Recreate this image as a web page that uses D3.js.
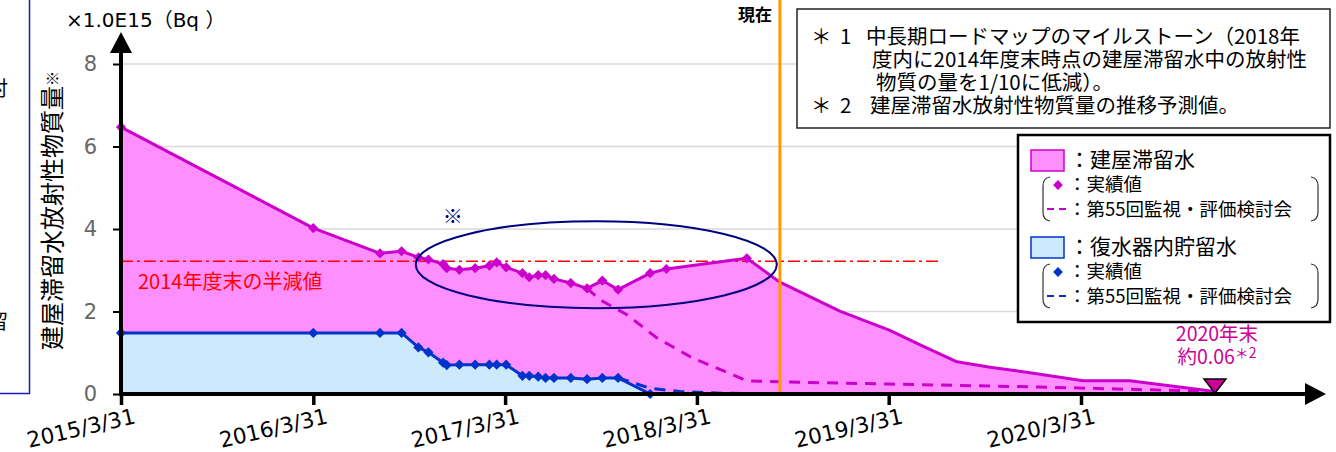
<!DOCTYPE html>
<html>
<head>
<meta charset="utf-8">
<script src="https://cdn.jsdelivr.net/npm/d3@7"></script>
<style>
  body { margin: 0; background: #fff; }
  svg { display: block; font-family: "DejaVu Sans", "Noto Sans CJK JP", sans-serif; }
  .jp { font-family: "Noto Sans CJK JP", sans-serif; }
</style>
</head>
<body>
<svg id="chart" width="1336" height="452"></svg>
<script>
// measured dates (shared by both series)
const actualDates = [
  '2015-03-31', '2016-03-31', '2016-08-05', '2016-09-15', '2016-10-17', '2016-11-05',
  '2016-12-03', '2016-12-10', '2017-01-03', '2017-02-02', '2017-03-01', '2017-03-15',
  '2017-04-02', '2017-05-03', '2017-05-16', '2017-06-02', '2017-06-16', '2017-07-02',
  '2017-08-03', '2017-09-03', '2017-10-02', '2017-11-01', '2018-01-01', '2018-02-01',
  '2018-07-04'
];
// 建屋滞留水 実績値 (x1.0E15 Bq)
const buildingValues = [
  6.47, 4.02, 3.41, 3.46, 3.31, 3.26, 3.15, 3.05, 3.01, 3.05, 3.11, 3.19,
  3.07, 2.93, 2.83, 2.88, 2.88, 2.79, 2.69, 2.56, 2.75, 2.53, 2.93, 3.03, 3.29
];
// 復水器内貯留水 実績値
const condenserValues = [
  1.48, 1.48, 1.48, 1.48, 1.13, 1.01, 0.76, 0.70, 0.71, 0.71, 0.71, 0.71,
  0.71, 0.44, 0.44, 0.42, 0.39, 0.39, 0.39, 0.36, 0.39, 0.39, 0.0
];
// 推移予測値 (*2)
const forecastDates = [
  '2018-07-04', '2018-09-05', '2018-12-28', '2019-04-01', '2019-06-04', '2019-08-08',
  '2019-10-10', '2020-01-13', '2020-04-04', '2020-07-02', '2020-12-11'
];
const forecastValues = [3.29, 2.71, 2.01, 1.55, 1.16, 0.78, 0.65, 0.48, 0.32, 0.32, 0.06];
// 第55回監視・評価検討会 plan
const buildingPlanDates = [
  '2017-09-03', '2017-09-28', '2017-11-18', '2018-01-14', '2018-03-23', '2018-06-09',
  '2018-07-04', '2018-09-20', '2019-04-01', '2020-01-13', '2020-12-11'
];
const buildingPlanValues = [2.56, 2.28, 1.92, 1.36, 0.87, 0.46, 0.32, 0.29, 0.24, 0.17, 0.06];
const condenserPlanDates = ['2017-11-01', '2018-01-01', '2018-02-27', '2018-05-14', '2018-09-05'];
const condenserPlanValues = [0.39, 0.14, 0.06, 0.02, 0.0];

const yTicks = [0, 2, 4, 6, 8];
const xTickDates = ['2015-03-31', '2016-03-31', '2017-03-31', '2018-03-31', '2019-03-31', '2020-03-31'];
const xTickLabels = ['2015/3/31', '2016/3/31', '2017/3/31', '2018/3/31', '2019/3/31', '2020/3/31'];
const halfValue = 3.22;
const halfLineEnd = '2019-07-06';
const nowDate = '2018-09-05';
const endDate = '2020-12-11';
const endValue = 0.06;
const ellipseDates = ['2016-10-12', '2018-08-30'];
const ellipseValues = [4.19, 2.08];

const parse = d3.timeParse('%Y-%m-%d');
const svg = d3.select('#chart');

const x = d3.scaleTime()
  .domain([parse('2015-03-31'), parse('2020-03-31')])
  .range([121, 1081]);
const y = d3.scaleLinear().domain([0, 8]).range([394, 64]);

const pink = '#ff8fff', magenta = '#cc00cc';
const lightBlue = '#cdeafd', blue = '#0033cc';

const building = actualDates.map((d, i) => ({ date: parse(d), value: buildingValues[i] }));
const condenser = condenserValues.map((v, i) => ({ date: parse(actualDates[i]), value: v }));
const forecast = forecastDates.map((d, i) => ({ date: parse(d), value: forecastValues[i] }));
const buildingPlan = buildingPlanDates.map((d, i) => ({ date: parse(d), value: buildingPlanValues[i] }));
const condenserPlan = condenserPlanDates.map((d, i) => ({ date: parse(d), value: condenserPlanValues[i] }));
const buildingAll = building.concat(forecast.slice(1));

// left neighbour fragment
svg.append('path').attr('d', 'M0,393.5H29.5V0').attr('fill', 'none').attr('stroke', '#1a1acc').attr('stroke-width', 1.5);
svg.append('text').attr('class', 'jp').attr('x', -12).attr('y', 96).attr('font-size', 20).text('討');
svg.append('text').attr('class', 'jp').attr('x', -12).attr('y', 329).attr('font-size', 20).text('留');

// gridlines
svg.append('g').selectAll('line').data(yTicks.filter(d => d > 0)).join('line')
  .attr('x1', 121).attr('x2', 1305)
  .attr('y1', d => y(d)).attr('y2', d => y(d))
  .attr('stroke', '#d9d9d9').attr('stroke-width', 1.5);

// areas
const area = d3.area().x(d => x(d.date)).y0(y(0)).y1(d => y(d.value));
svg.append('path').datum(buildingAll).attr('d', area).attr('fill', pink);
svg.append('path').datum(condenser).attr('d', area).attr('fill', lightBlue);

// half value line
svg.append('line')
  .attr('x1', x(parse(actualDates[0]))).attr('x2', x(parse(halfLineEnd)))
  .attr('y1', y(halfValue)).attr('y2', y(halfValue))
  .attr('stroke', '#ff0000').attr('stroke-width', 1.5)
  .attr('stroke-dasharray', '12,4,3,4');
svg.append('text').attr('class', 'jp')
  .attr('x', 138).attr('y', y(halfValue) + 28)
  .attr('font-size', 20).attr('fill', '#ff0000')
  .text('2014年度末の半減値');

const line = d3.line().x(d => x(d.date)).y(d => y(d.value));

// plan lines (dashed)
svg.append('path').datum(buildingPlan).attr('d', line)
  .attr('fill', 'none').attr('stroke', magenta).attr('stroke-width', 3).attr('stroke-dasharray', '11,8');
svg.append('path').datum(condenserPlan).attr('d', line)
  .attr('fill', 'none').attr('stroke', blue).attr('stroke-width', 3).attr('stroke-dasharray', '11,8');

// actual + forecast lines
svg.append('path').datum(buildingAll).attr('d', line)
  .attr('fill', 'none').attr('stroke', magenta).attr('stroke-width', 3).attr('stroke-linejoin', 'round');
svg.append('path').datum(condenser).attr('d', line)
  .attr('fill', 'none').attr('stroke', blue).attr('stroke-width', 3).attr('stroke-linejoin', 'round');

const diamond = d3.symbol().type(d3.symbolSquare).size(52);
svg.append('g').selectAll('path').data(building).join('path')
  .attr('d', diamond).attr('fill', magenta)
  .attr('transform', d => `translate(${x(d.date)},${y(d.value)}) rotate(45)`);
svg.append('g').selectAll('path').data(condenser).join('path')
  .attr('d', diamond).attr('fill', blue)
  .attr('transform', d => `translate(${x(d.date)},${y(d.value)}) rotate(45)`);

// ellipse around 2016-2018 actuals
const ex0 = x(parse(ellipseDates[0])), ex1 = x(parse(ellipseDates[1]));
const ey0 = y(ellipseValues[0]), ey1 = y(ellipseValues[1]);
svg.append('ellipse')
  .attr('cx', (ex0 + ex1) / 2).attr('cy', (ey0 + ey1) / 2)
  .attr('rx', (ex1 - ex0) / 2).attr('ry', (ey1 - ey0) / 2)
  .attr('fill', 'none').attr('stroke', '#000080').attr('stroke-width', 2);
svg.append('text').attr('class', 'jp')
  .attr('x', ex0 + 37).attr('y', ey0 + 3)
  .attr('text-anchor', 'middle').attr('font-size', 20).attr('fill', '#000080')
  .text('※');

// now line
const nowX = x(parse(nowDate));
svg.append('line').attr('x1', nowX).attr('x2', nowX).attr('y1', 0).attr('y2', y(0))
  .attr('stroke', '#ff9900').attr('stroke-width', 3);
svg.append('text').attr('class', 'jp')
  .attr('x', nowX - 8).attr('y', 21).attr('text-anchor', 'end')
  .attr('font-size', 17).attr('font-weight', 'bold').text('現在');

// axes
const yAxis = svg.append('g').attr('transform', 'translate(121,0)')
  .call(d3.axisLeft(y).tickValues(yTicks).tickSize(8).tickPadding(16));
yAxis.select('.domain').remove();
yAxis.selectAll('line').attr('stroke', '#000').attr('stroke-width', 2);
yAxis.selectAll('text').attr('font-size', 21).attr('fill', '#666')
  .attr('font-family', '"DejaVu Sans", sans-serif');

const xAxis = svg.append('g').attr('transform', `translate(0,${y(0)})`)
  .call(d3.axisBottom(x).tickValues(xTickDates.map(parse)).tickSize(11)
    .tickFormat((d, i) => xTickLabels[i]));
xAxis.select('.domain').remove();
xAxis.selectAll('line').attr('stroke', '#000').attr('stroke-width', 3.5);
xAxis.selectAll('text')
  .attr('font-size', 21.5).attr('fill', '#000').attr('text-anchor', 'end')
  .attr('font-family', '"DejaVu Sans", sans-serif')
  .attr('dy', 0).attr('y', 0)
  .attr('transform', 'translate(15,29) rotate(-13)');

// axis lines with arrows
svg.append('line').attr('x1', 121).attr('x2', 1306).attr('y1', y(0)).attr('y2', y(0))
  .attr('stroke', '#000').attr('stroke-width', 4);
svg.append('path').attr('d', `M1305,${y(0) - 11}L1326,${y(0)}L1305,${y(0) + 11}Z`).attr('fill', '#000');
svg.append('line').attr('x1', 121).attr('x2', 121).attr('y1', y(0) + 2).attr('y2', 52)
  .attr('stroke', '#000').attr('stroke-width', 4);
svg.append('path').attr('d', 'M110,53L121,32L132,53Z').attr('fill', '#000');

// end marker
const endX = x(parse(endDate));
svg.append('path')
  .attr('d', `M${endX - 11},${y(0) - 15}L${endX + 11},${y(0) - 15}L${endX},${y(0) - 1}Z`)
  .attr('fill', '#cc0099').attr('stroke', '#000').attr('stroke-width', 1.5);
const endText = svg.append('text').attr('class', 'jp').attr('fill', '#cc0099').attr('font-size', 19.5)
  .attr('text-anchor', 'middle');
endText.append('tspan').attr('x', endX + 2).attr('y', y(endValue) - 51).text('2020年末');
endText.append('tspan').attr('x', endX + 2).attr('y', y(endValue) - 28).text('約0.06');
endText.append('tspan').attr('font-size', 14).attr('dy', -6).text('＊2');

// axis unit and title
svg.append('text').attr('x', 66).attr('y', 27).attr('font-size', 20).text('×1.0E15（Bq ）');
const yTitle = svg.append('text').attr('class', 'jp')
  .attr('transform', 'translate(61,350) rotate(-90)')
  .attr('font-size', 24);
yTitle.append('tspan').text('建屋滞留水放射性物質量');
yTitle.append('tspan').attr('font-size', 15).attr('dy', -3).text('※');

// notes box
svg.append('rect').attr('x', 797).attr('y', 9).attr('width', 533).attr('height', 119)
  .attr('fill', '#fff').attr('stroke', '#222').attr('stroke-width', 1.5);
const noteLines = [
  { mark: '＊', num: '1', x: 866, y: 44, text: '中長期ロードマップのマイルストーン（2018年' },
  { x: 872, y: 67, text: '度内に2014年度末時点の建屋滞留水中の放射性' },
  { x: 876, y: 90, text: '物質の量を1/10に低減）。' },
  { mark: '＊', num: '2', x: 870, y: 113, text: '建屋滞留水放射性物質量の推移予測値。' }
];
const notes = svg.append('text').attr('class', 'jp').attr('font-size', 20.5);
noteLines.forEach(n => {
  if (n.mark) {
    notes.append('tspan').attr('x', 811).attr('y', n.y).text(n.mark);
    notes.append('tspan').attr('x', 840).attr('y', n.y).text(n.num);
  }
  notes.append('tspan').attr('x', n.x).attr('y', n.y).text(n.text);
});

// legend box
svg.append('rect').attr('x', 1018).attr('y', 135).attr('width', 312).attr('height', 187)
  .attr('fill', '#fff').attr('stroke', '#000').attr('stroke-width', 2.5);

const legendGroups = [
  { top: 150, fill: pink, stroke: magenta, label: '：建屋滞留水' },
  { top: 237, fill: lightBlue, stroke: blue, label: '：復水器内貯留水' }
];
legendGroups.forEach(g => {
  const lg = svg.append('g');
  lg.append('rect').attr('x', 1031).attr('y', g.top).attr('width', 33).attr('height', 21)
    .attr('fill', g.fill).attr('stroke', g.stroke).attr('stroke-width', 1.5);
  lg.append('text').attr('class', 'jp').attr('x', 1069).attr('y', g.top + 17)
    .attr('font-size', 21).text(g.label);
  lg.append('path')
    .attr('d', `M1050,${g.top + 27}Q1043,${g.top + 28} 1043,${g.top + 36}V${g.top + 62}Q1043,${g.top + 70} 1050,${g.top + 71}`)
    .attr('fill', 'none').attr('stroke', '#333').attr('stroke-width', 1.2);
  lg.append('path')
    .attr('d', `M1311,${g.top + 27}Q1318,${g.top + 28} 1318,${g.top + 36}V${g.top + 62}Q1318,${g.top + 70} 1311,${g.top + 71}`)
    .attr('fill', 'none').attr('stroke', '#333').attr('stroke-width', 1.2);
  lg.append('path').attr('d', d3.symbol().type(d3.symbolSquare).size(48))
    .attr('transform', `translate(1058,${g.top + 35}) rotate(45)`).attr('fill', g.stroke);
  lg.append('text').attr('class', 'jp').attr('x', 1068).attr('y', g.top + 41)
    .attr('font-size', 18.5).text('：実績値');
  lg.append('line').attr('x1', 1047).attr('x2', 1071).attr('y1', g.top + 59).attr('y2', g.top + 59)
    .attr('stroke', g.stroke).attr('stroke-width', 2).attr('stroke-dasharray', '7,5');
  lg.append('text').attr('class', 'jp').attr('x', 1068).attr('y', g.top + 66)
    .attr('font-size', 18.5).text('：第55回監視・評価検討会');
});
</script>
</body>
</html>
